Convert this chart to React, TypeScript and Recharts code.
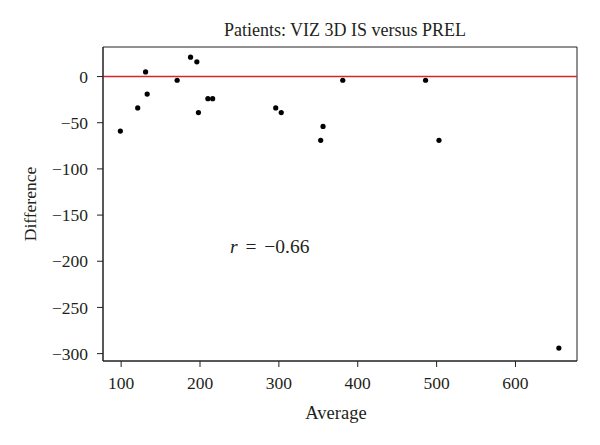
import React from "react";
import {
  ScatterChart,
  Scatter,
  XAxis,
  YAxis,
  ReferenceLine,
  ReferenceArea,
  ReferenceDot,
} from "recharts";

const averages = [99, 121, 131, 133, 171, 188, 196, 198, 210, 216, 296, 303, 353, 356, 381, 486, 503, 655];
const differences = [-59, -34, 5, -19, -4, 21, 16, -39, -24, -24, -34, -39, -69, -54, -4, -4, -69, -294];
const xTicks = [100, 200, 300, 400, 500, 600];
const yTicks = [-300, -250, -200, -150, -100, -50, 0];
const title = "Patients: VIZ 3D IS versus PREL";
const rText = "−0.66";

const points = averages.map((a, i) => ({ x: a, y: differences[i] }));

const FONT = "'Liberation Serif', 'DejaVu Serif', serif";
const INK = "#231f20";

function fmt(v: number): string {
  return v < 0 ? `−${Math.abs(v)}` : `${v}`;
}

function Dot(props: any) {
  return <circle cx={props.cx} cy={props.cy} r={2.6} fill="#000" />;
}

function RLabel(props: any) {
  const { viewBox } = props;
  return (
    <text x={viewBox.x} y={viewBox.y + 6} fontFamily={FONT} fontSize={19.5} fill={INK}>
      <tspan fontStyle="italic">r</tspan>
      <tspan dx={3}> =</tspan>
      <tspan dx={3}> {rText}</tspan>
    </text>
  );
}

export default function App() {
  return (
    <div style={{ position: "absolute", left: 0, top: 0, width: 600, height: 445, background: "#fff" }}>
      <div
        style={{
          position: "absolute",
          left: 103,
          width: 484,
          top: 20,
          textAlign: "center",
          fontFamily: FONT,
          fontSize: 18,
          color: INK,
          whiteSpace: "nowrap",
        }}
      >
        {title}
      </div>
      <ScatterChart width={600} height={445} margin={{ top: 47, right: 23, bottom: 0, left: 0 }}>
        <XAxis
          type="number"
          dataKey="x"
          domain={[77, 678]}
          ticks={xTicks}
          allowDataOverflow
          height={84}
          tickSize={6}
          tickMargin={10}
          stroke={INK}
          tick={{ fill: INK, fontSize: 17.5, fontFamily: FONT }}
          label={{ value: "Average", position: "insideBottom", offset: 26, dx: -4, fill: INK, fontSize: 18.5, fontFamily: FONT }}
        />
        <YAxis
          type="number"
          dataKey="y"
          domain={[-308, 32]}
          ticks={yTicks}
          allowDataOverflow
          width={103}
          tickSize={6}
          tickMargin={9}
          stroke={INK}
          tickFormatter={fmt}
          tick={{ fill: INK, fontSize: 17.5, fontFamily: FONT }}
          label={{
            value: "Difference",
            angle: -90,
            position: "insideLeft",
            offset: 30,
            style: { textAnchor: "middle" },
            fill: INK,
            fontSize: 17.5,
            fontFamily: FONT,
          }}
        />
        <ReferenceArea x1={77} x2={678} y1={-308} y2={32} fill="none" stroke={INK} strokeWidth={1} ifOverflow="visible" />
        <ReferenceLine y={0} stroke="#d7262b" strokeWidth={1.5} />
        <ReferenceDot x={238} y={-185} r={0} fill="none" stroke="none" label={<RLabel />} />
        <Scatter data={points} shape={<Dot />} isAnimationActive={false} />
      </ScatterChart>
    </div>
  );
}
